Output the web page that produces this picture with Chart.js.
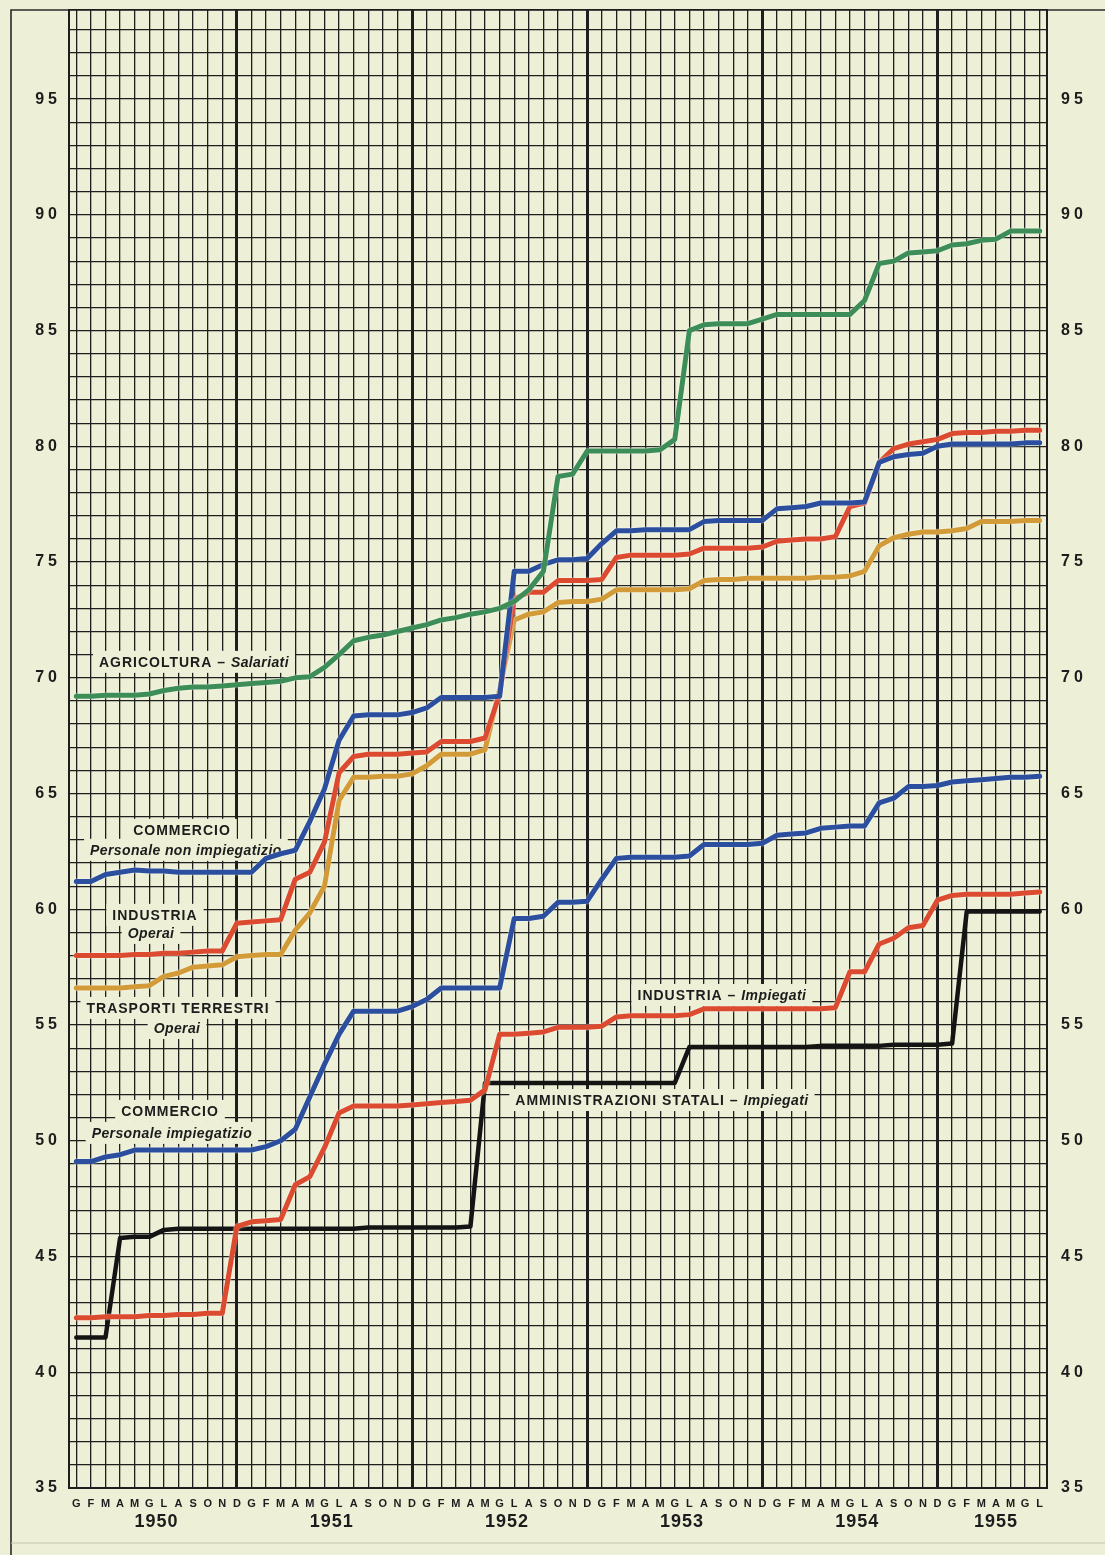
<!DOCTYPE html>
<html>
<head>
<meta charset="utf-8">
<script src="https://cdn.jsdelivr.net/npm/chart.js@4.4.1/dist/chart.umd.min.js"></script>
<style>
  html, body { margin: 0; padding: 0; background: #edf0d6; }
  canvas { display: block; }
</style>
</head>
<body>
<canvas id="c" width="1105" height="1555"></canvas>
<script>
// ---------- categories / tick labels ----------
const monthLetters = ['G','F','M','A','M','G','L','A','S','O','N','D'];
const years = ['1950','1951','1952','1953','1954','1955'];
const monthsInLastYear = 7;
const yLabelStep = 5;
const yLabelMax = 95;

// ---------- series (monthly values, Jan 1950 .. Jul 1955) ----------
const agricolturaSalariati = [
  69.2, 69.2, 69.25, 69.25, 69.25, 69.3, 69.45, 69.55, 69.6, 69.6, 69.65, 69.7,
  69.75, 69.8, 69.85, 70.0, 70.05, 70.45, 71.0, 71.6, 71.75, 71.85, 72.0, 72.15,
  72.3, 72.5, 72.6, 72.75, 72.85, 73.0, 73.3, 73.8, 74.6, 78.7, 78.8, 79.8,
  79.8, 79.8, 79.8, 79.8, 79.85, 80.3, 85.0, 85.25, 85.3, 85.3, 85.3, 85.5,
  85.7, 85.7, 85.7, 85.7, 85.7, 85.7, 86.3, 87.9, 88.0, 88.35, 88.4, 88.45,
  88.7, 88.75, 88.9, 88.95, 89.3, 89.3, 89.3
];
const commercioNonImpiegatizio = [
  61.2, 61.2, 61.5, 61.6, 61.7, 61.65, 61.65, 61.6, 61.6, 61.6, 61.6, 61.6,
  61.6, 62.2, 62.4, 62.55, 63.8, 65.2, 67.3, 68.35, 68.4, 68.4, 68.4, 68.5,
  68.7, 69.15, 69.15, 69.15, 69.15, 69.2, 74.6, 74.6, 74.9, 75.1, 75.1, 75.15,
  75.8, 76.35, 76.35, 76.4, 76.4, 76.4, 76.4, 76.75, 76.8, 76.8, 76.8, 76.8,
  77.3, 77.35, 77.4, 77.55, 77.55, 77.55, 77.6, 79.3, 79.55, 79.65, 79.7, 80.0,
  80.1, 80.1, 80.1, 80.1, 80.1, 80.15, 80.15
];
const industriaOperai = [
  58.0, 58.0, 58.0, 58.0, 58.05, 58.05, 58.1, 58.1, 58.15, 58.2, 58.2, 59.4,
  59.45, 59.5, 59.55, 61.3, 61.6, 62.9, 65.9, 66.6, 66.7, 66.7, 66.7, 66.75,
  66.8, 67.25, 67.25, 67.25, 67.4, 69.3, 73.4, 73.7, 73.7, 74.2, 74.2, 74.2,
  74.25, 75.2, 75.3, 75.3, 75.3, 75.3, 75.35, 75.6, 75.6, 75.6, 75.6, 75.65,
  75.9, 75.95, 76.0, 76.0, 76.1, 77.4, 77.55, 79.3, 79.9, 80.1, 80.2, 80.3,
  80.55, 80.6, 80.6, 80.65, 80.65, 80.7, 80.7
];
const trasportiOperai = [
  56.6, 56.6, 56.6, 56.6, 56.65, 56.7, 57.1, 57.25, 57.5, 57.55, 57.6, 57.95,
  58.0, 58.05, 58.05, 59.1, 59.85, 61.0, 64.7, 65.7, 65.7, 65.75, 65.75, 65.85,
  66.2, 66.7, 66.7, 66.7, 66.9, 69.5, 72.5, 72.75, 72.85, 73.25, 73.3, 73.3,
  73.4, 73.8, 73.8, 73.8, 73.8, 73.8, 73.85, 74.2, 74.25, 74.25, 74.3, 74.3,
  74.3, 74.3, 74.3, 74.35, 74.35, 74.4, 74.6, 75.7, 76.05, 76.2, 76.3, 76.3,
  76.35, 76.45, 76.75, 76.75, 76.75, 76.8, 76.8
];
const commercioImpiegatizio = [
  49.1, 49.1, 49.3, 49.4, 49.6, 49.6, 49.6, 49.6, 49.6, 49.6, 49.6, 49.6,
  49.6, 49.75, 50.0, 50.5, 51.9, 53.3, 54.6, 55.6, 55.6, 55.6, 55.6, 55.8,
  56.1, 56.6, 56.6, 56.6, 56.6, 56.6, 59.6, 59.6, 59.7, 60.3, 60.3, 60.35,
  61.3, 62.2, 62.25, 62.25, 62.25, 62.25, 62.3, 62.8, 62.8, 62.8, 62.8, 62.85,
  63.2, 63.25, 63.3, 63.5, 63.55, 63.6, 63.6, 64.6, 64.8, 65.3, 65.3, 65.35,
  65.5, 65.55, 65.6, 65.65, 65.7, 65.7, 65.75
];
const industriaImpiegati = [
  42.35, 42.35, 42.4, 42.4, 42.4, 42.45, 42.45, 42.5, 42.5, 42.55, 42.55, 46.3,
  46.5, 46.55, 46.6, 48.1, 48.45, 49.7, 51.2, 51.5, 51.5, 51.5, 51.5, 51.55,
  51.6, 51.65, 51.7, 51.75, 52.2, 54.6, 54.6, 54.65, 54.7, 54.9, 54.9, 54.9,
  54.95, 55.35, 55.4, 55.4, 55.4, 55.4, 55.45, 55.7, 55.7, 55.7, 55.7, 55.7,
  55.7, 55.7, 55.7, 55.7, 55.75, 57.3, 57.3, 58.5, 58.75, 59.2, 59.3, 60.4,
  60.6, 60.65, 60.65, 60.65, 60.65, 60.7, 60.75
];
const amministrazioniStatali = [
  41.5, 41.5, 41.5, 45.8, 45.85, 45.85, 46.15, 46.2, 46.2, 46.2, 46.2, 46.2,
  46.2, 46.2, 46.2, 46.2, 46.2, 46.2, 46.2, 46.2, 46.25, 46.25, 46.25, 46.25,
  46.25, 46.25, 46.25, 46.3, 52.5, 52.5, 52.5, 52.5, 52.5, 52.5, 52.5, 52.5,
  52.5, 52.5, 52.5, 52.5, 52.5, 52.5, 54.05, 54.05, 54.05, 54.05, 54.05, 54.05,
  54.05, 54.05, 54.05, 54.1, 54.1, 54.1, 54.1, 54.1, 54.15, 54.15, 54.15, 54.15,
  54.2, 59.9, 59.9, 59.9, 59.9, 59.9, 59.9
];

// ---------- text labels on the chart ----------
const seriesLabels = [
  { m: 8.06, v: 70.69, parts: [['AGRICOLTURA – ', false], ['Salariati', true]] },
  { m: 7.24, v: 63.43, parts: [['COMMERCIO', false]] },
  { m: 7.51, v: 62.57, parts: [['Personale non impiegatizio', true]] },
  { m: 5.39, v: 59.76, parts: [['INDUSTRIA', false]] },
  { m: 5.12, v: 58.98, parts: [['Operai', true]] },
  { m: 6.97, v: 55.74, parts: [['TRASPORTI TERRESTRI', false]] },
  { m: 6.90, v: 54.87, parts: [['Operai', true]] },
  { m: 6.42, v: 51.29, parts: [['COMMERCIO', false]] },
  { m: 6.55, v: 50.34, parts: [['Personale impiegatizio', true]] },
  { m: 44.23, v: 56.30, parts: [['INDUSTRIA – ', false], ['Impiegati', true]] },
  { m: 40.12, v: 51.76, parts: [['AMMINISTRAZIONI STATALI – ', false], ['Impiegati', true]] }
];

// ---------- build categories ----------
const categories = [];
years.forEach((y, k) => {
  const n = (k === years.length - 1) ? monthsInLastYear : 12;
  for (let m = 0; m < n; m++) categories.push(monthLetters[m]);
});

const PAPER = '#edf0d6';
const INK = '#1c1c1c';
const FONT = '"Liberation Sans", Arial, sans-serif';

const paperPlugin = {
  id: 'paper',
  afterLayout(chart) {
    ['y', 'y2'].forEach(id => {
      const s = chart.scales[id];
      if (s && !s._spaced) {
        const orig = s.drawLabels;
        s.drawLabels = function (area) {
          const ctx = this.ctx;
          ctx.save();
          ctx.letterSpacing = '4px';
          orig.call(this, area);
          ctx.restore();
        };
        s._spaced = true;
      }
    });
  },
  beforeDraw(chart) {
    const ctx = chart.ctx;
    ctx.save();
    ctx.fillStyle = PAPER;
    ctx.fillRect(0, 0, chart.width, chart.height);
    ctx.strokeStyle = '#2a2a2a';
    ctx.lineWidth = 1.6;
    ctx.beginPath();
    ctx.moveTo(11, chart.height);
    ctx.lineTo(11, 10);
    ctx.lineTo(chart.width, 10);
    ctx.stroke();
    ctx.strokeStyle = '#c3c6ae';
    ctx.lineWidth = 1.2;
    ctx.beginPath();
    ctx.moveTo(11, 1543);
    ctx.lineTo(chart.width, 1543);
    ctx.stroke();
    ctx.restore();
  },
  beforeDatasetsDraw(chart) {
    const ctx = chart.ctx;
    const xs = chart.scales.x, ys = chart.scales.y;
    ctx.save();
    seriesLabels.forEach(L => {
      const cx = xs.getPixelForValue(L.m);
      const cy = ys.getPixelForValue(L.v);
      let w = 0;
      const widths = L.parts.map(([t, it]) => {
        ctx.font = (it ? 'italic ' : '') + 'bold 14px ' + FONT;
        ctx.letterSpacing = it ? '0.4px' : '1px';
        const pw = ctx.measureText(t).width;
        w += pw;
        return pw;
      });
      ctx.fillStyle = PAPER;
      ctx.fillRect(cx - w / 2 - 6, cy - 11, w + 12, 22);
      let x = cx - w / 2;
      ctx.fillStyle = INK;
      ctx.textBaseline = 'middle';
      ctx.textAlign = 'left';
      L.parts.forEach(([t, it], i) => {
        ctx.font = (it ? 'italic ' : '') + 'bold 14px ' + FONT;
        ctx.letterSpacing = it ? '0.4px' : '1px';
        ctx.fillText(t, x, cy + 1);
        x += widths[i];
      });
    });
    ctx.restore();
  },
  beforeDatasetDraw(chart, args) {
    const ds = chart.data.datasets[args.index];
    if (ds.halo) {
      chart.ctx.save();
      chart.ctx.shadowColor = 'rgba(255,255,255,0.85)';
      chart.ctx.shadowBlur = 2;
    }
  },
  afterDatasetDraw(chart, args) {
    const ds = chart.data.datasets[args.index];
    if (ds.halo) chart.ctx.restore();
  },
  afterDraw(chart) {
    const ctx = chart.ctx;
    const xs = chart.scales.x;
    ctx.save();
    ctx.font = 'bold 18px ' + FONT;
    ctx.letterSpacing = '1px';
    ctx.fillStyle = INK;
    ctx.textAlign = 'center';
    ctx.textBaseline = 'middle';
    years.forEach((y, k) => {
      const start = k * 12;
      const end = Math.min(k * 12 + 11, categories.length - 1);
      const px = (xs.getPixelForValue(start) + xs.getPixelForValue(end)) / 2;
      ctx.fillText(y, px, 1522);
    });
    ctx.restore();
  }
};

function yLabel(v) {
  return (Number.isInteger(v) && v % yLabelStep === 0 && v <= yLabelMax) ? String(v) : '';
}

const mk = (label, data, color, width, halo) => ({
  label, data, borderColor: color, backgroundColor: color,
  borderWidth: width, pointRadius: 0, tension: 0, fill: false,
  borderJoinStyle: 'round', borderCapStyle: 'round', halo
});

function fitY(width) {
  return function (s) {
    s.width = width;
    s.paddingTop = 0;
    s.paddingBottom = 0;
  };
}

new Chart(document.getElementById('c'), {
  type: 'line',
  data: {
    labels: categories,
    datasets: [
      mk('AGRICOLTURA – Salariati', agricolturaSalariati, '#3d8d58', 5, true),
      mk('COMMERCIO – Personale non impiegatizio', commercioNonImpiegatizio, '#2b4f9e', 5, true),
      mk('INDUSTRIA – Operai', industriaOperai, '#dc4a2f', 5, true),
      mk('TRASPORTI TERRESTRI – Operai', trasportiOperai, '#d39b38', 5, true),
      mk('COMMERCIO – Personale impiegatizio', commercioImpiegatizio, '#2b4f9e', 5, true),
      mk('INDUSTRIA – Impiegati', industriaImpiegati, '#dc4a2f', 5, true),
      mk('AMMINISTRAZIONI STATALI – Impiegati', amministrazioniStatali, '#141414', 4.5, false)
    ]
  },
  options: {
    responsive: false,
    devicePixelRatio: 1,
    animation: false,
    layout: { padding: { top: 10, left: 0, right: 0, bottom: 0 } },
    plugins: { legend: { display: false }, tooltip: { enabled: false } },
    scales: {
      x: {
        type: 'category',
        offset: true,
        afterFit(s) { s.height = 67; s.paddingLeft = 0; s.paddingRight = 0; },
        ticks: {
          autoSkip: false, maxRotation: 0, minRotation: 0, padding: 9,
          color: INK, font: { family: FONT, weight: 'bold', size: 11 }
        },
        grid: {
          offset: false, drawTicks: false, color: '#1e1e1e',
          lineWidth: (c) => (c.index % 12 === 11 ? 3 : 1.3)
        },
        border: { display: true, color: '#1e1e1e', width: 2 }
      },
      y: {
        type: 'linear', position: 'left', min: 35, max: 98.85,
        afterFit: fitY(69),
        ticks: {
          stepSize: 1, autoSkip: false, padding: 8, color: INK,
          font: { family: FONT, weight: 'bold', size: 16 },
          callback: (v) => yLabel(v)
        },
        grid: { color: '#1e1e1e', lineWidth: 1.3, drawTicks: false },
        border: { display: true, color: '#1e1e1e', width: 2 }
      },
      y2: {
        type: 'linear', position: 'right', min: 35, max: 98.85,
        afterFit: fitY(58),
        ticks: {
          stepSize: 1, autoSkip: false, padding: 14, color: INK,
          font: { family: FONT, weight: 'bold', size: 16 },
          callback: (v) => yLabel(v)
        },
        grid: { display: false, drawTicks: false },
        border: { display: true, color: '#1e1e1e', width: 2 }
      }
    }
  },
  plugins: [paperPlugin]
});
</script>
</body>
</html>
